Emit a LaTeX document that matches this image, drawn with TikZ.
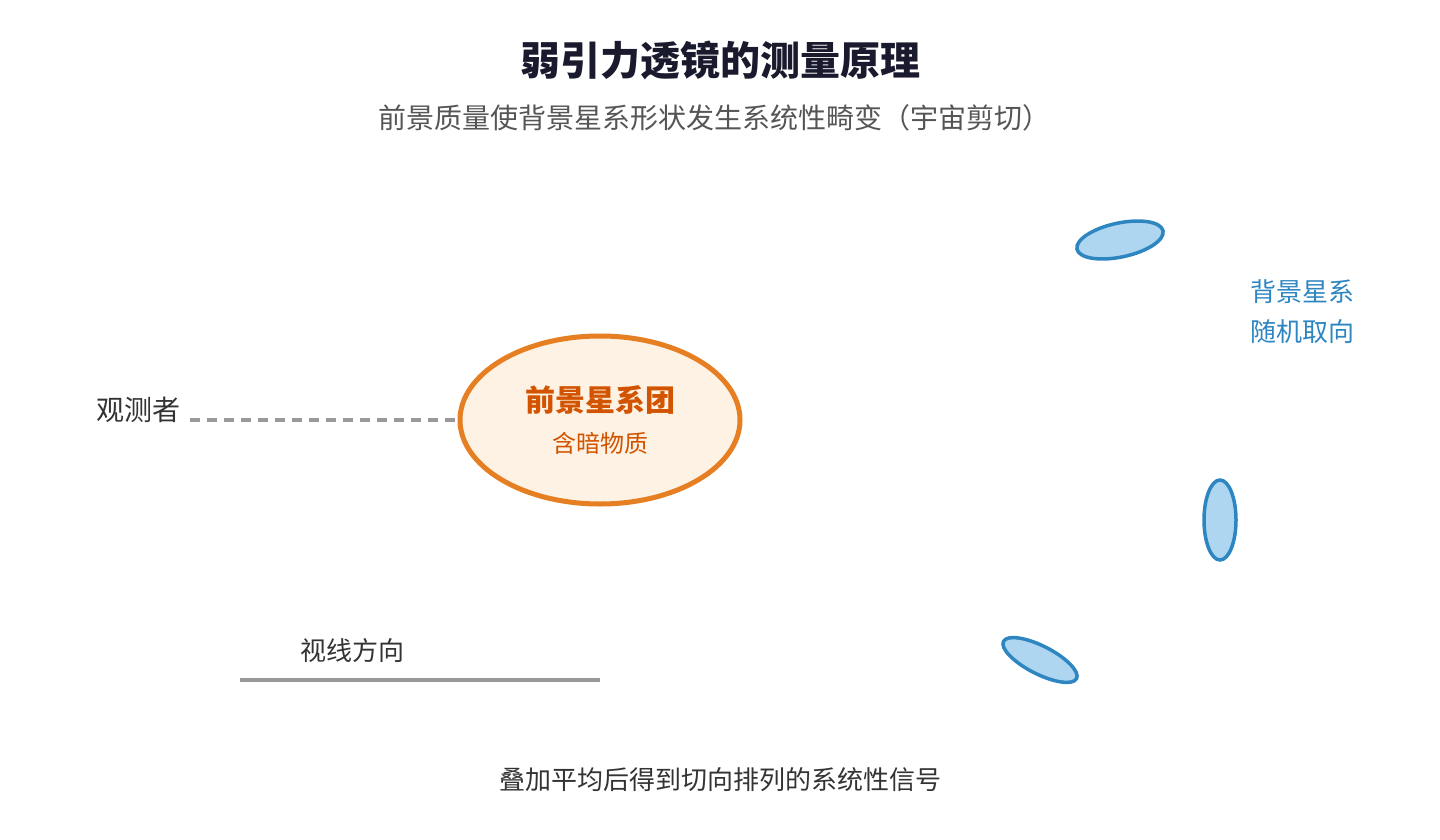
\documentclass[tikz,border=0pt]{standalone}
\usepackage{fontspec}
\newfontfamily\cjk{Noto Sans CJK SC}
\usepackage{tikz}
\usetikzlibrary{positioning,shapes.geometric}
\usepackage{xcolor}
\definecolor{titledark}{HTML}{1A1A2E}
\definecolor{subgray}{HTML}{555555}
\definecolor{textdark}{HTML}{333333}
\definecolor{linegray}{HTML}{999999}
\definecolor{clusterorange}{HTML}{E67E22}
\definecolor{clusterfill}{HTML}{FDF2E3}
\definecolor{clustertext}{HTML}{D35400}
\definecolor{galaxyblue}{HTML}{2E86C1}
\definecolor{galaxyfill}{HTML}{AED6F1}

\begin{document}
\begin{tikzpicture}[
  x=1pt, y=-1pt,
  label/.style={inner sep=0pt, font=\cjk\fontsize{26}{30}\selectfont, text=textdark},
  cluster/.style={ellipse, draw=clusterorange, fill=clusterfill,
    line width=5pt, minimum width=280pt, minimum height=168pt, inner sep=0pt},
  galaxy/.style={ellipse, draw=galaxyblue, fill=galaxyfill,
    line width=3.5pt, inner sep=0pt},
  sightline/.style={draw=linegray, line width=3.5pt}
]
\useasboundingbox (0,0) rectangle (1440,840);

% Title
\node[inner sep=0pt, font=\cjk\bfseries\fontsize{40}{44}\selectfont, text=titledark]
  (title) at (720,60) {弱引力透镜的测量原理};
\node[inner sep=0pt, font=\cjk\fontsize{28}{32}\selectfont, text=subgray]
  (subtitle) at (714,118) {前景质量使背景星系形状发生系统性畸变（宇宙剪切）};

% Observer and cluster
\node[label, anchor=east, font=\cjk\fontsize{28}{32}\selectfont] (observer) at (181,410) {观测者};
\node[cluster] (cluster) at (600,420) {};
\node[inner sep=0pt, font=\cjk\bfseries\fontsize{30}{34}\selectfont, text=clustertext]
  (clustername) at (600,400) {前景星系团};
\node[inner sep=0pt, font=\cjk\fontsize{24}{28}\selectfont, text=clustertext]
  (darkmatter) at (600,443) {含暗物质};
\draw[sightline, dash pattern=on 10pt off 7pt]
  (observer.east |- cluster.west) ++(9,0) coordinate (obs end) -- (cluster.west);

% Background galaxies
\node[galaxy, minimum width=88pt, minimum height=34pt, rotate=12] (gal1) at (1120,240) {};
\node[galaxy, minimum width=32pt, minimum height=80pt] (gal2) at (1220,520) {};
\node[galaxy, minimum width=82pt, minimum height=28pt, rotate=-27] (gal3) at (1040,660) {};
\node[label, text=galaxyblue, align=left, anchor=north west,
  font=\cjk\fontsize{26}{40}\selectfont] (bglabel) at (1250,279) {背景星系\\随机取向};

% Line of sight
\node[label] (loslabel) at (352,651) {视线方向};
\coordinate (los start) at (240,680);
\coordinate (los end) at (600,680);
\draw[sightline] (los start) -- (los end);

% Conclusion
\node[label] (result) at (720,780) {叠加平均后得到切向排列的系统性信号};
\end{tikzpicture}
\end{document}
